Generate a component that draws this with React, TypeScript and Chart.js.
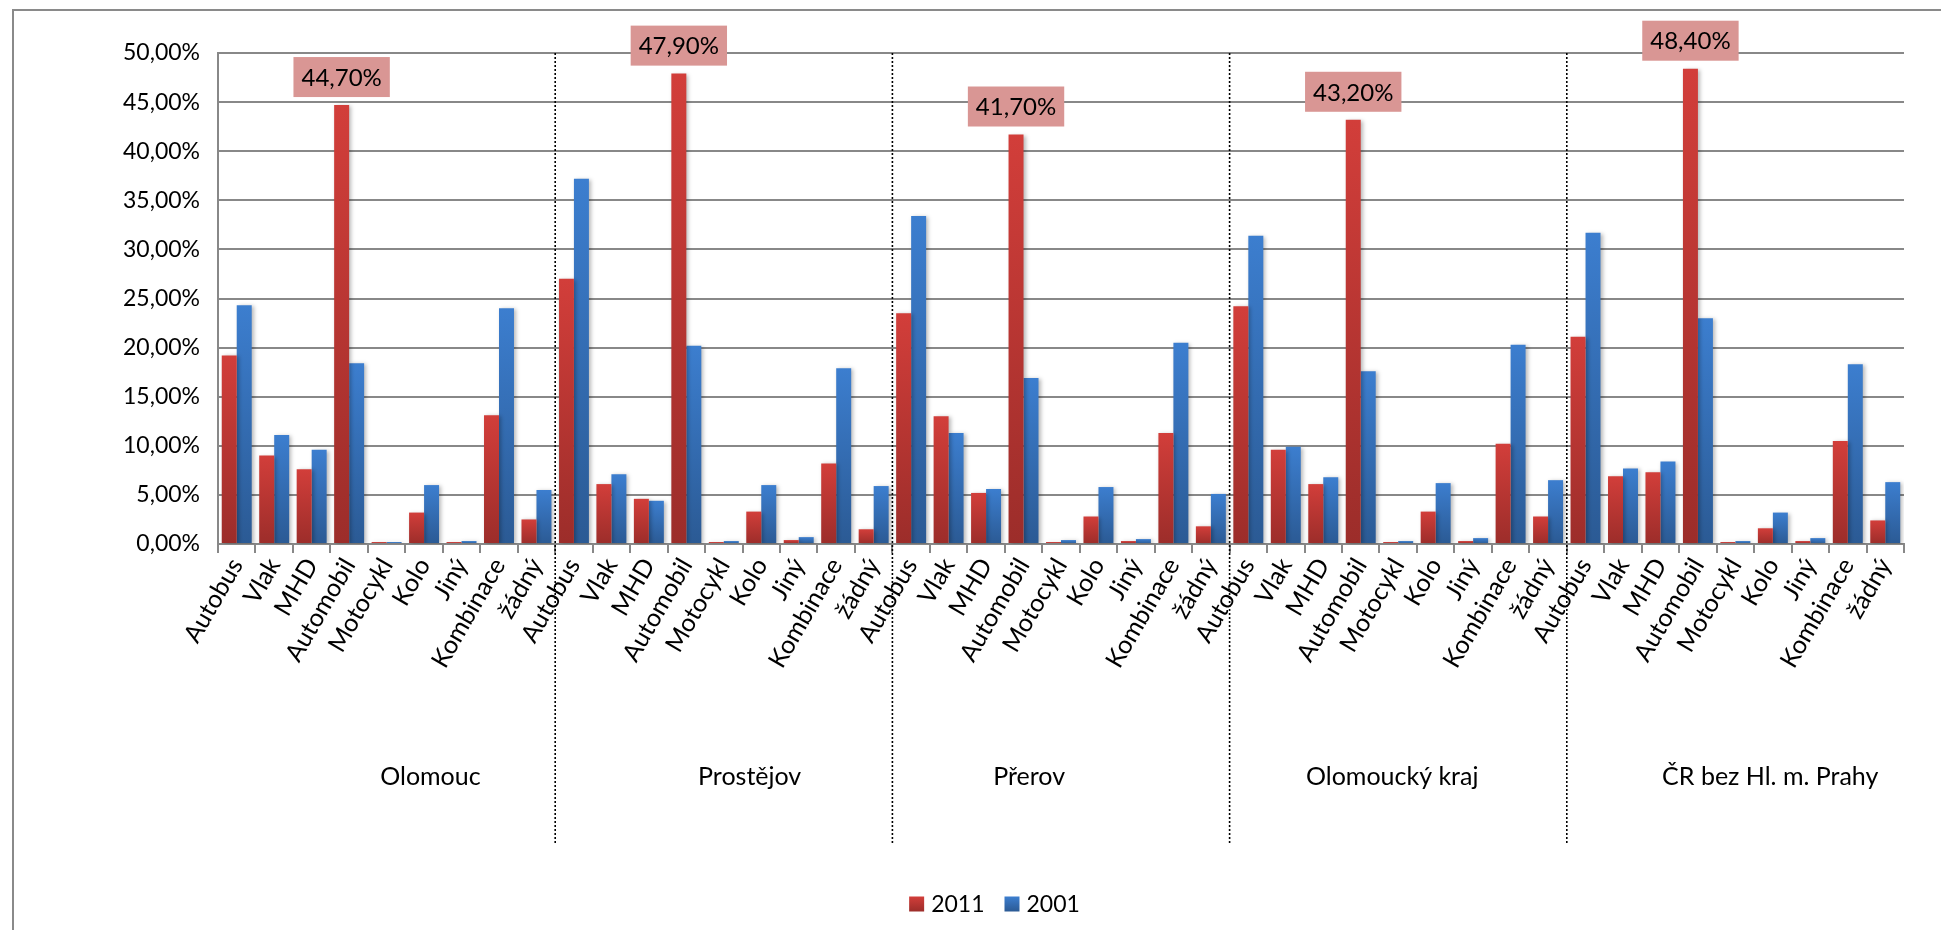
import { useEffect, useRef } from 'react';
import { Chart, registerables } from 'chart.js';

Chart.register(...registerables);

const FONT = 'Lato, "Noto Sans", sans-serif';

const categories = ['Autobus', 'Vlak', 'MHD', 'Automobil', 'Motocykl', 'Kolo', 'Jiný', 'Kombinace', 'žádný'];
const groups = ['Olomouc', 'Prostějov', 'Přerov', 'Olomoucký kraj', 'ČR bez Hl. m. Prahy'];
const groupLabelShift = [1.17, 0.69, -0.85, -0.16, 0.93];
const seriesNames = ['2011', '2001'];

const values2011 = [
  19.2, 9.0, 7.6, 44.7, 0.2, 3.2, 0.2, 13.1, 2.5,
  27.0, 6.1, 4.6, 47.9, 0.2, 3.3, 0.4, 8.2, 1.5,
  23.5, 13.0, 5.2, 41.7, 0.2, 2.8, 0.3, 11.3, 1.8,
  24.2, 9.6, 6.1, 43.2, 0.2, 3.3, 0.3, 10.2, 2.8,
  21.1, 6.9, 7.3, 48.4, 0.2, 1.6, 0.3, 10.5, 2.4,
];
const values2001 = [
  24.3, 11.1, 9.6, 18.4, 0.2, 6.0, 0.3, 24.0, 5.5,
  37.2, 7.1, 4.4, 20.2, 0.3, 6.0, 0.7, 17.9, 5.9,
  33.4, 11.3, 5.6, 16.9, 0.4, 5.8, 0.5, 20.5, 5.1,
  31.4, 9.9, 6.8, 17.6, 0.3, 6.2, 0.6, 20.3, 6.5,
  31.7, 7.7, 8.4, 23.0, 0.3, 3.2, 0.6, 18.3, 6.3,
];
const highlightCategory = 'Automobil';

const yMin = 0;
const yMax = 50;
const yStep = 5;

const RED_TOP = '#D23E3A';
const RED_BOTTOM = '#9C2D2A';
const BLUE_TOP = '#3C7ECF';
const BLUE_BOTTOM = '#2B5A94';
const LABEL_BOX = '#D99694';
const GRID = '#888888';

const labels: string[] = [];
groups.forEach(() => categories.forEach((c) => labels.push(c)));

const fmtPct = (v: number) => v.toFixed(2).replace('.', ',') + '%';

function barGradient(top: string, bottom: string) {
  return (ctx: any) => {
    const chart = ctx.chart;
    const y = chart.scales && chart.scales.y;
    if (!chart.chartArea || !y || ctx.raw == null) return top;
    const yTop = y.getPixelForValue(ctx.raw);
    const yBase = y.getPixelForValue(0);
    if (!isFinite(yTop) || !isFinite(yBase) || Math.abs(yBase - yTop) < 1) return top;
    const g = chart.ctx.createLinearGradient(0, yTop, 0, yBase);
    g.addColorStop(0, top);
    g.addColorStop(1, bottom);
    return g;
  };
}

const decorPlugin = {
  id: 'decor',
  beforeDraw(chart: any) {
    const ctx = chart.ctx;
    ctx.save();
    ctx.strokeStyle = '#8a8a8a';
    ctx.lineWidth = 2;
    ctx.beginPath();
    ctx.moveTo(5, chart.height + 10);
    ctx.lineTo(5, 2);
    ctx.lineTo(chart.width + 10, 2);
    ctx.stroke();
    ctx.restore();
  },
  beforeDatasetsDraw(chart: any) {
    const ctx = chart.ctx;
    ctx.save();
    ctx.shadowColor = 'rgba(0,0,0,0.28)';
    ctx.shadowBlur = 4;
    ctx.shadowOffsetX = 2;
    ctx.shadowOffsetY = 1;
  },
  afterDatasetsDraw(chart: any) {
    const ctx = chart.ctx;
    ctx.restore();
    const area = chart.chartArea;
    const xs = chart.scales.x;

    // group separators
    ctx.save();
    ctx.strokeStyle = '#000';
    ctx.lineWidth = 1.6;
    ctx.setLineDash([2, 2]);
    for (let g = 1; g < groups.length; g++) {
      const i = g * categories.length;
      const x = (xs.getPixelForValue(i - 1) + xs.getPixelForValue(i)) / 2;
      ctx.beginPath();
      ctx.moveTo(x, area.top);
      ctx.lineTo(x, area.bottom + 301);
      ctx.stroke();
    }
    ctx.restore();

    // group labels
    ctx.save();
    ctx.fillStyle = '#000';
    ctx.font = `25px ${FONT}`;
    ctx.textAlign = 'center';
    ctx.textBaseline = 'middle';
    const step = xs.getPixelForValue(1) - xs.getPixelForValue(0);
    groups.forEach((name, g) => {
      const c = g * categories.length + (categories.length - 1) / 2;
      const x = xs.getPixelForValue(c) + groupLabelShift[g] * step;
      ctx.fillText(name, x, area.bottom + 233);
    });
    ctx.restore();

    // data labels
    const meta = chart.getDatasetMeta(0);
    ctx.save();
    ctx.font = `24px ${FONT}`;
    ctx.textAlign = 'center';
    ctx.textBaseline = 'middle';
    values2011.forEach((v, i) => {
      if (categories[i % categories.length] !== highlightCategory) return;
      const bar = meta.data[i];
      const text = fmtPct(v);
      const w = ctx.measureText(text).width + 16;
      const h = 40;
      const bottom = bar.y - 8;
      ctx.fillStyle = LABEL_BOX;
      ctx.fillRect(bar.x - w / 2, bottom - h, w, h);
      ctx.fillStyle = '#000';
      ctx.fillText(text, bar.x, bottom - h / 2 + 1);
    });
    ctx.restore();

    // legend
    ctx.save();
    ctx.font = `23px ${FONT}`;
    ctx.textBaseline = 'middle';
    const box = 15;
    const gapBox = 7;
    const gapItem = 20;
    const colors = [[RED_TOP, RED_BOTTOM], [BLUE_TOP, BLUE_BOTTOM]];
    const widths = seriesNames.map((s) => box + gapBox + ctx.measureText(s).width);
    const total = widths.reduce((a, b) => a + b, 0) + gapItem * (seriesNames.length - 1);
    let lx = chart.width / 2 + 20 - total / 2;
    const ly = area.bottom + 360;
    seriesNames.forEach((s, k) => {
      const g = ctx.createLinearGradient(0, ly - box / 2, 0, ly + box / 2);
      g.addColorStop(0, colors[k][0]);
      g.addColorStop(1, colors[k][1]);
      ctx.fillStyle = g;
      ctx.fillRect(lx, ly - box / 2, box, box);
      ctx.fillStyle = '#000';
      ctx.fillText(s, lx + box + gapBox, ly + 1);
      lx += widths[k] + gapItem;
    });
    ctx.restore();
  },
};

export default function App() {
  const ref = useRef<HTMLCanvasElement | null>(null);

  useEffect(() => {
    if (!ref.current) return;
    const chart = new Chart(ref.current, {
      type: 'bar',
      data: {
        labels,
        datasets: [
          {
            label: seriesNames[0],
            data: values2011,
            backgroundColor: barGradient(RED_TOP, RED_BOTTOM),
            borderWidth: 0,
            categoryPercentage: 0.8,
            barPercentage: 1.0,
          },
          {
            label: seriesNames[1],
            data: values2001,
            backgroundColor: barGradient(BLUE_TOP, BLUE_BOTTOM),
            borderWidth: 0,
            categoryPercentage: 0.8,
            barPercentage: 1.0,
          },
        ],
      },
      options: {
        animation: false,
        responsive: false,
        maintainAspectRatio: false,
        layout: { padding: { top: 45, right: 37, left: 0, bottom: 0 } },
        plugins: {
          legend: { display: false },
          tooltip: { enabled: false },
        },
        scales: {
          x: {
            offset: true,
            grid: {
              display: true,
              drawOnChartArea: false,
              drawTicks: true,
              tickLength: 9,
              color: GRID,
              lineWidth: 2,
              offset: true,
            },
            border: { display: true, color: GRID, width: 2 },
            ticks: {
              autoSkip: false,
              minRotation: 60,
              maxRotation: 60,
              padding: 0,
              color: '#000',
              font: { family: FONT, size: 25 },
            },
            afterFit: (scale: any) => {
              scale.height = 386;
            },
          },
          y: {
            min: yMin,
            max: yMax,
            grid: { color: GRID, lineWidth: 2, drawTicks: false },
            border: { display: true, color: GRID, width: 2 },
            ticks: {
              stepSize: yStep,
              padding: 18,
              color: '#000',
              font: { family: FONT, size: 23 },
              callback: (v: any) => fmtPct(Number(v)),
            },
            afterFit: (scale: any) => {
              scale.width = 210;
            },
          },
        },
      },
      plugins: [decorPlugin],
    });
    return () => chart.destroy();
  }, []);

  return (
    <div style={{ width: 1933, height: 922, background: '#fff' }}>
      <canvas ref={ref} width={1933} height={922} style={{ display: 'block', width: 1933, height: 922 }} />
    </div>
  );
}
